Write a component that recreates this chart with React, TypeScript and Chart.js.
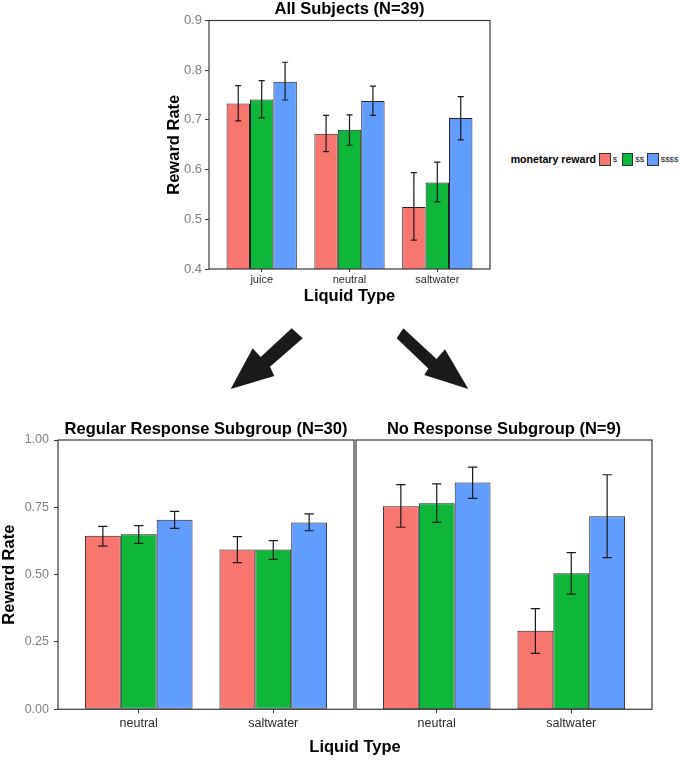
import React, { useEffect, useRef } from 'react';
import { Chart, registerables } from 'chart.js';

Chart.register(...registerables);

const FONT = "'Liberation Sans', Arial, Helvetica, sans-serif";

// ---------- data ----------
const allCategories = ['juice', 'neutral', 'saltwater'];
const subCategories = ['neutral', 'saltwater'];
const rewardLabels = ['$', '$$', '$$$$'];
const rewardColors = ['#F8766D', '#0CB73A', '#619CFF'];

// All subjects (N=39)
const allSingle = [0.733, 0.672, 0.525];
const allSingleLo = [0.698, 0.636, 0.458];
const allSingleHi = [0.769, 0.709, 0.594];
const allDouble = [0.741, 0.68, 0.574];
const allDoubleLo = [0.704, 0.649, 0.535];
const allDoubleHi = [0.779, 0.71, 0.615];
const allQuad = [0.777, 0.738, 0.704];
const allQuadLo = [0.74, 0.709, 0.66];
const allQuadHi = [0.816, 0.768, 0.747];

// Regular response subgroup (N=30)
const regSingle = [0.644, 0.593];
const regSingleLo = [0.606, 0.545];
const regSingleHi = [0.679, 0.641];
const regDouble = [0.65, 0.593];
const regDoubleLo = [0.616, 0.557];
const regDoubleHi = [0.682, 0.626];
const regQuad = [0.704, 0.694];
const regQuadLo = [0.672, 0.663];
const regQuadHi = [0.735, 0.726];

// No response subgroup (N=9)
const noSingle = [0.754, 0.292];
const noSingleLo = [0.676, 0.208];
const noSingleHi = [0.834, 0.374];
const noDouble = [0.765, 0.505];
const noDoubleLo = [0.694, 0.428];
const noDoubleHi = [0.837, 0.582];
const noQuad = [0.842, 0.717];
const noQuadLo = [0.783, 0.563];
const noQuadHi = [0.899, 0.871];

const topTicks = [0.4, 0.5, 0.6, 0.7, 0.8, 0.9];
const bottomTicks = [0, 0.25, 0.5, 0.75, 1.0];

// ---------- plugins ----------
const panelBorderPlugin = {
  id: 'panelBorder',
  afterDatasetsDraw(chart: any) {
    const { ctx } = chart;
    const { left, top, width, height } = chart.chartArea;
    ctx.save();
    ctx.strokeStyle = '#3a3a3a';
    ctx.lineWidth = 1.2;
    ctx.strokeRect(left, top, width, height);
    ctx.restore();
  },
};

const errorBarPlugin = {
  id: 'errorBars',
  afterDatasetsDraw(chart: any) {
    const { ctx } = chart;
    const yScale = chart.scales.y;
    ctx.save();
    ctx.strokeStyle = '#1a1a1a';
    ctx.lineWidth = 1.2;
    chart.data.datasets.forEach((ds: any, d: number) => {
      const meta = chart.getDatasetMeta(d);
      meta.data.forEach((bar: any, i: number) => {
        const { x, width } = bar.getProps(['x', 'width'], true);
        const yl = yScale.getPixelForValue(ds.errLo[i]);
        const yh = yScale.getPixelForValue(ds.errHi[i]);
        const cap = width * 0.13;
        ctx.beginPath();
        ctx.moveTo(x, yl);
        ctx.lineTo(x, yh);
        ctx.moveTo(x - cap, yl);
        ctx.lineTo(x + cap, yl);
        ctx.moveTo(x - cap, yh);
        ctx.lineTo(x + cap, yh);
        ctx.stroke();
      });
    });
    ctx.restore();
  },
};

function makeDatasets(series: number[][], lo: number[][], hi: number[][]) {
  return rewardLabels.map((label, s) => ({
    label,
    data: series[s].map((v, i) => ({ x: i + 1, y: v })),
    errLo: lo[s],
    errHi: hi[s],
    backgroundColor: rewardColors[s],
    borderColor: '#222',
    borderWidth: 1,
    borderSkipped: false,
    categoryPercentage: 0.8,
    barPercentage: 1.0,
  }));
}

interface PanelOpts {
  title: string;
  titlePad: { top: number; bottom: number };
  categories: string[];
  datasets: any[];
  yTicks: number[];
  yDecimals: number;
  showY: boolean;
  yWidth: number;
  yTickSize: number;
  yTickPad: number;
  yTickLen: number;
  yTitlePad: number;
  yTitleLineHeight: number;
  xHeight: number;
  xTickSize: number;
  xTickPad: number;
  xTickLen: number;
  xTitle: string | null;
  xTitlePadBottom: number;
  padding: { left: number; right: number; top: number; bottom: number };
}

function buildConfig(o: PanelOpts): any {
  const cats = o.categories;
  return {
    type: 'bar',
    data: { datasets: o.datasets },
    plugins: [panelBorderPlugin, errorBarPlugin],
    options: {
      responsive: false,
      animation: false,
      events: [],
      layout: { padding: o.padding },
      plugins: {
        legend: { display: false },
        tooltip: { enabled: false },
        title: {
          display: true,
          text: o.title,
          color: '#000',
          fullSize: false,
          font: { family: FONT, size: 16.5, weight: 'bold', lineHeight: 1.2 },
          padding: o.titlePad,
        },
      },
      scales: {
        x: {
          type: 'linear',
          bounds: 'data',
          min: 0.4,
          max: cats.length + 0.6,
          offset: false,
          afterBuildTicks: (s: any) => {
            s.ticks = cats.map((_, i) => ({ value: i + 1 }));
          },
          afterFit: (s: any) => {
            s.height = o.xHeight;
          },
          ticks: {
            autoSkip: false,
            maxRotation: 0,
            color: '#2a2a2a',
            padding: o.xTickPad,
            font: { family: FONT, size: o.xTickSize },
            callback: (v: any) => cats[Math.round(Number(v)) - 1] ?? '',
          },
          grid: {
            offset: false,
            drawOnChartArea: false,
            drawTicks: true,
            tickLength: o.xTickLen,
            color: '#333',
            tickColor: '#333',
          },
          border: { display: false },
          title: {
            display: !!o.xTitle,
            text: o.xTitle ?? '',
            color: '#000',
            font: { family: FONT, size: 16.5, weight: 'bold', lineHeight: 1.2 },
            padding: { top: 0, bottom: o.xTitlePadBottom },
          },
        },
        y: {
          display: o.showY,
          min: o.yTicks[0],
          max: o.yTicks[o.yTicks.length - 1],
          afterBuildTicks: (s: any) => {
            s.ticks = o.yTicks.map((v) => ({ value: v }));
          },
          afterFit: (s: any) => {
            if (o.showY) s.width = o.yWidth;
          },
          ticks: {
            color: '#7f7f7f',
            padding: o.yTickPad,
            font: { family: FONT, size: o.yTickSize },
            callback: (v: any) => Number(v).toFixed(o.yDecimals),
          },
          grid: {
            offset: false,
            drawOnChartArea: false,
            drawTicks: true,
            tickLength: o.yTickLen,
            color: '#333',
            tickColor: '#333',
          },
          border: { display: false },
          title: {
            display: o.showY,
            text: 'Reward Rate',
            color: '#000',
            font: { family: FONT, size: 16.5, weight: 'bold', lineHeight: o.yTitleLineHeight },
            padding: { top: o.yTitlePad, bottom: 0 },
          },
        },
      },
    },
  };
}

function ChartCanvas(props: { config: any; left: number; top: number; width: number; height: number }) {
  const ref = useRef<HTMLCanvasElement>(null);
  useEffect(() => {
    const chart = new Chart(ref.current as HTMLCanvasElement, props.config);
    return () => chart.destroy();
  }, []);
  return (
    <canvas
      ref={ref}
      width={props.width}
      height={props.height}
      style={{
        position: 'absolute',
        left: props.left,
        top: props.top,
        width: props.width,
        height: props.height,
        display: 'block',
      }}
    />
  );
}

const topConfig = buildConfig({
  title: 'All Subjects (N=39)',
  titlePad: { top: 0, bottom: 0.7 },
  categories: allCategories,
  datasets: makeDatasets(
    [allSingle, allDouble, allQuad],
    [allSingleLo, allDoubleLo, allQuadLo],
    [allSingleHi, allDoubleHi, allQuadHi]
  ),
  yTicks: topTicks,
  yDecimals: 1,
  showY: true,
  yWidth: 49,
  yTickSize: 13,
  yTickPad: 3,
  yTickLen: 4,
  yTitlePad: 5,
  yTitleLineHeight: 1.2,
  xHeight: 41,
  xTickSize: 11,
  xTickPad: 1,
  xTickLen: 3,
  xTitle: 'Liquid Type',
  xTitlePadBottom: 3.4,
  padding: { left: 0, right: 10, top: 0, bottom: 0 },
});

const regConfig = buildConfig({
  title: 'Regular Response Subgroup (N=30)',
  titlePad: { top: 10, bottom: 0.2 },
  categories: subCategories,
  datasets: makeDatasets(
    [regSingle, regDouble, regQuad],
    [regSingleLo, regDoubleLo, regQuadLo],
    [regSingleHi, regDoubleHi, regQuadHi]
  ),
  yTicks: bottomTicks,
  yDecimals: 2,
  showY: true,
  yWidth: 58,
  yTickSize: 12.5,
  yTickPad: 5,
  yTickLen: 4,
  yTitlePad: 0,
  yTitleLineHeight: 1.1,
  xHeight: 30.7,
  xTickSize: 12.5,
  xTickPad: 2.5,
  xTickLen: 4,
  xTitle: null,
  xTitlePadBottom: 0,
  padding: { left: 0, right: 1, top: 0, bottom: 0 },
});

const noConfig = buildConfig({
  title: 'No Response Subgroup (N=9)',
  titlePad: { top: 10, bottom: 0.2 },
  categories: subCategories,
  datasets: makeDatasets(
    [noSingle, noDouble, noQuad],
    [noSingleLo, noDoubleLo, noQuadLo],
    [noSingleHi, noDoubleHi, noQuadHi]
  ),
  yTicks: bottomTicks,
  yDecimals: 2,
  showY: false,
  yWidth: 0,
  yTickSize: 12.5,
  yTickPad: 5,
  yTickLen: 4,
  yTitlePad: 0,
  yTitleLineHeight: 1.1,
  xHeight: 30.7,
  xTickSize: 12.5,
  xTickPad: 2.5,
  xTickLen: 4,
  xTitle: null,
  xTitlePadBottom: 0,
  padding: { left: 1, right: 3, top: 0, bottom: 0 },
});

function TextAt(props: {
  text: string;
  left: number;
  cy: number;
  size: number;
  bold?: boolean;
  color?: string;
  center?: boolean;
}) {
  const h = Math.round(props.size * 1.4);
  return (
    <div
      style={{
        position: 'absolute',
        left: props.center ? props.left - 150 : props.left,
        width: props.center ? 300 : undefined,
        textAlign: props.center ? 'center' : 'left',
        top: props.cy - h / 2,
        height: h,
        lineHeight: `${h}px`,
        fontSize: props.size,
        fontFamily: FONT,
        fontWeight: props.bold ? 'bold' : 'normal',
        color: props.color ?? '#000',
        whiteSpace: 'nowrap',
      }}
    >
      {props.text}
    </div>
  );
}

const legendKeyX = [599.3, 621.7, 647.3];
const legendLabelX = [612.7, 635.3, 660.7];

export default function App() {
  return (
    <div
      style={{
        position: 'absolute',
        left: 0,
        top: 0,
        width: 680,
        height: 760,
        background: '#fff',
        overflow: 'hidden',
        fontFamily: FONT,
      }}
    >
      <ChartCanvas config={topConfig} left={160} top={0} width={340} height={310} />

      {/* legend */}
      <TextAt text="monetary reward" left={510.7} cy={159} size={10.6} bold />
      {rewardLabels.map((lab, i) => (
        <React.Fragment key={lab}>
          <div
            style={{
              position: 'absolute',
              left: legendKeyX[i],
              top: 152.7,
              width: 11.3,
              height: 13.3,
              boxSizing: 'border-box',
              background: rewardColors[i],
              border: '1px solid #333',
            }}
          />
          <TextAt text={lab} left={legendLabelX[i]} cy={159.5} size={8} color="#222" />
        </React.Fragment>
      ))}

      {/* arrows */}
      <svg
        width={680}
        height={760}
        style={{ position: 'absolute', left: 0, top: 0, pointerEvents: 'none' }}
      >
        <polygon
          points="291.7,328.3 302.7,338.3 270,366.7 274.3,376 230.7,389 252.7,348.3 260.7,357"
          fill="#1a1a1a"
        />
        <polygon
          points="403.3,328.3 396.7,338.3 428.3,368.5 424.3,375 468.3,389 445,349.3 436.5,359"
          fill="#1a1a1a"
        />
      </svg>

      <ChartCanvas config={regConfig} left={0} top={410} width={355} height={330} />
      <ChartCanvas config={noConfig} left={355} top={410} width={300} height={330} />

      <TextAt text="Liquid Type" left={355} cy={746.5} size={16.5} bold center />
    </div>
  );
}
